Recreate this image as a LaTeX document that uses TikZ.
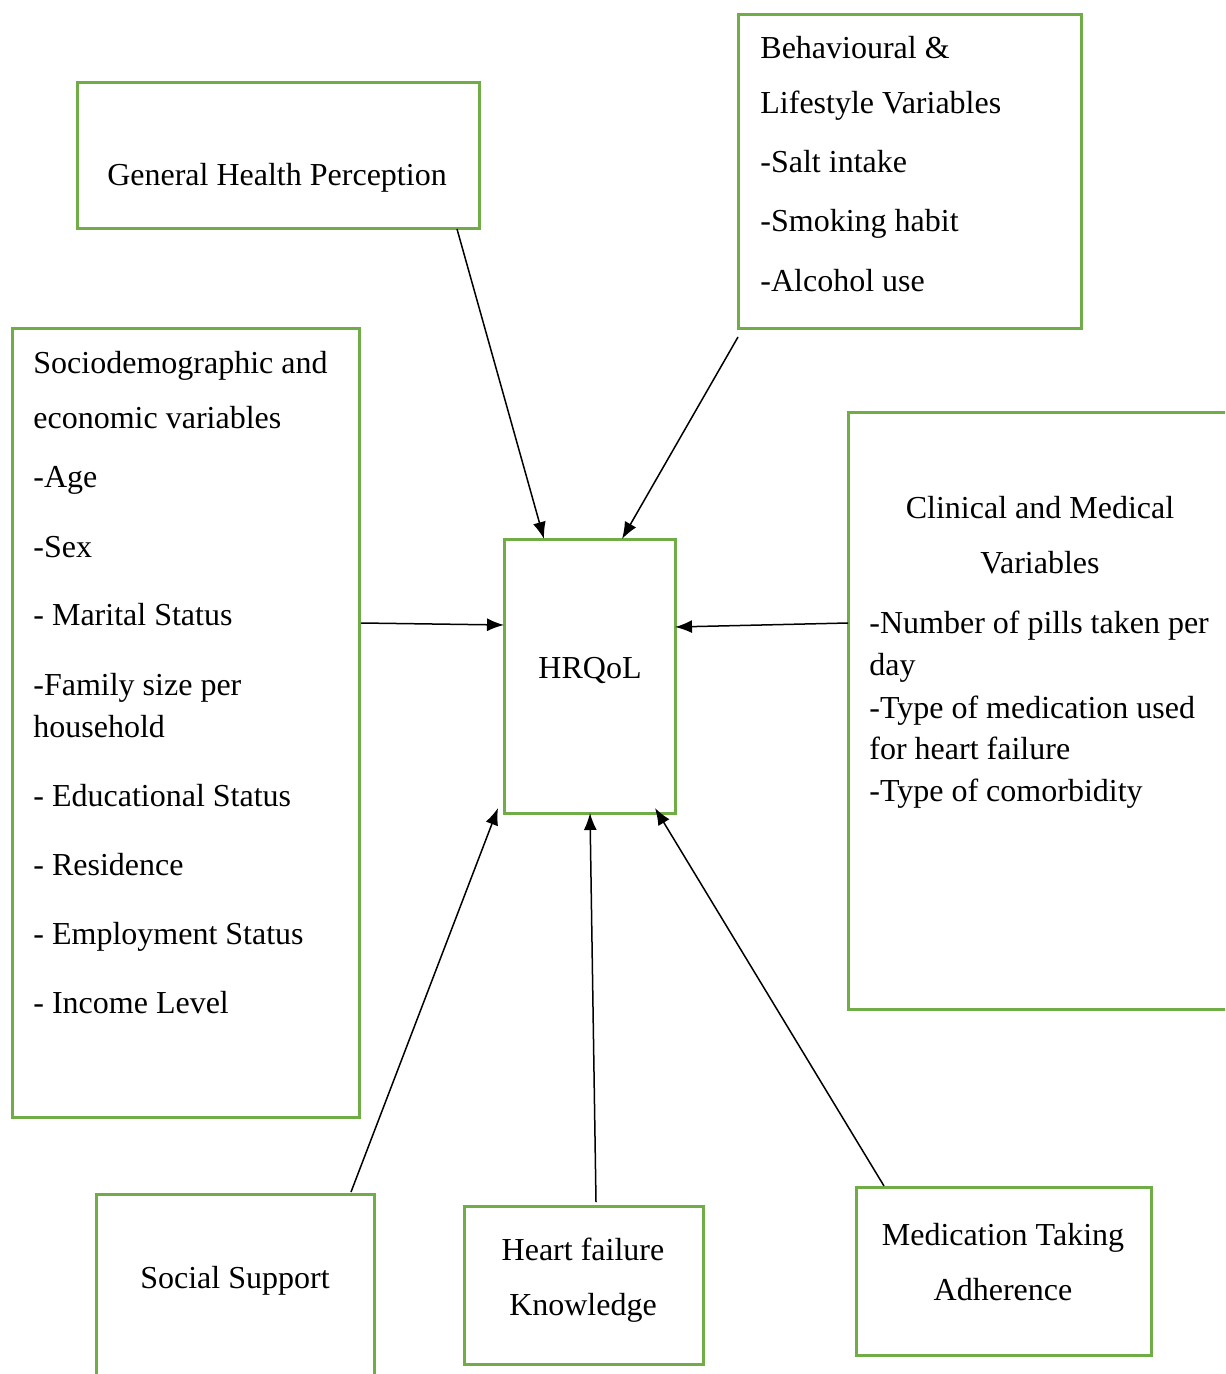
\documentclass[tikz,border=0pt]{standalone}
\usepackage{fontspec}
\setmainfont{Liberation Serif}
\usetikzlibrary{arrows.meta,calc}
\definecolor{boxgreen}{RGB}{112,173,71}
\tikzset{
  box/.style={draw=boxgreen, line width=1.5pt, inner sep=0pt, outer sep=0pt, anchor=north west, fill=none},
  lt/.style={anchor=base west, inner sep=0pt, font=\fontsize{16}{19}\selectfont},
  ct/.style={anchor=base, inner sep=0pt, font=\fontsize{16}{19}\selectfont},
  arr/.style={-{Latex[length=8.5pt,width=6.5pt]}, line width=0.75pt, black}
}
\begin{document}
\begin{tikzpicture}[x=0.5pt,y=-0.5pt]
\useasboundingbox (0,0) rectangle (1225,1374);
\clip (0,0) rectangle (1225,1374);
% boxes
\node[box, minimum width=201pt, minimum height=73pt] (ghp) at (77,83) {};
\node[box, minimum width=171.5pt, minimum height=157pt] (beh) at (738,15) {};
\node[box, minimum width=173.5pt, minimum height=394pt] (soc) at (12,329) {};
\node[box, minimum width=85.5pt, minimum height=137pt] (hrq) at (504,539) {};
\node[box, minimum width=196pt, minimum height=298.5pt] (cli) at (848,412) {};
\node[box, minimum width=139pt, minimum height=103pt] (sup) at (96,1194) {};
\node[box, minimum width=119.5pt, minimum height=79pt] (hf) at (464,1206) {};
\node[box, minimum width=147.5pt, minimum height=84pt] (med) at (856,1187) {};
% texts
\node[ct] (tghp) at (277,186) {General Health Perception};
\node[lt] (tb1) at (760,59) {Behavioural \&};
\node[lt] (tb2) at (760,114) {Lifestyle Variables};
\node[lt] (tb3) at (760,173) {-Salt intake};
\node[lt] (tb4) at (760,232) {-Smoking habit};
\node[lt] (tb5) at (760,292) {-Alcohol use};
\node[lt] (ts1) at (33,373) {Sociodemographic and};
\node[lt] (ts2) at (33,428) {economic variables};
\node[lt] (ts3) at (33,487) {-Age};
\node[lt] (ts4) at (33,557) {-Sex};
\node[lt] (ts5) at (33,625) {- Marital Status};
\node[lt] (ts6) at (33,695) {-Family size per};
\node[lt] (ts7) at (33,737) {household};
\node[lt] (ts8) at (33,806) {- Educational Status};
\node[lt] (ts9) at (33,875) {- Residence};
\node[lt] (ts10) at (33,944) {- Employment Status};
\node[lt] (ts11) at (33,1013) {- Income Level};
\node[ct] (thr) at (590,678) {HRQoL};
\node[ct] (tc1) at (1040,518) {Clinical and Medical};
\node[ct] (tc2) at (1040,573) {Variables};
\node[lt] (tc3) at (869,633) {-Number of pills taken per};
\node[lt] (tc4) at (869,675) {day};
\node[lt] (tc5) at (869,718) {-Type of medication used};
\node[lt] (tc6) at (869,759) {for heart failure};
\node[lt] (tc7) at (869,801) {-Type of comorbidity};
\node[ct] (tsup) at (235,1288) {Social Support};
\node[ct] (thf1) at (583,1260) {Heart failure};
\node[ct] (thf2) at (583,1315) {Knowledge};
\node[ct] (tm1) at (1003,1245) {Medication Taking};
\node[ct] (tm2) at (1003,1300) {Adherence};
% arrows
\draw[arr] ($(ghp.south west)+(380,0)$) -- ($(hrq.north west)+(40,0)$);
\draw[arr] ($(beh.south west)+(0,8)$) -- ($(hrq.north west)+(118,0)$);
\draw[arr] ($(soc.north east)+(2,294)$) -- ($(hrq.north west)+(0,86)$);
\draw[arr] ($(cli.north west)+(0,211)$) -- ($(hrq.north east)+(0,88)$);
\draw[arr] ($(sup.north west)+(255,-2)$) -- ($(hrq.south west)+(-6,-5)$);
\draw[arr] ($(hf.north west)+(132,-4)$) -- ($(hrq.south west)+(86,0)$);
\draw[arr] ($(med.north west)+(28,-1)$) -- ($(hrq.south west)+(151,-5)$);
\end{tikzpicture}
\end{document}
